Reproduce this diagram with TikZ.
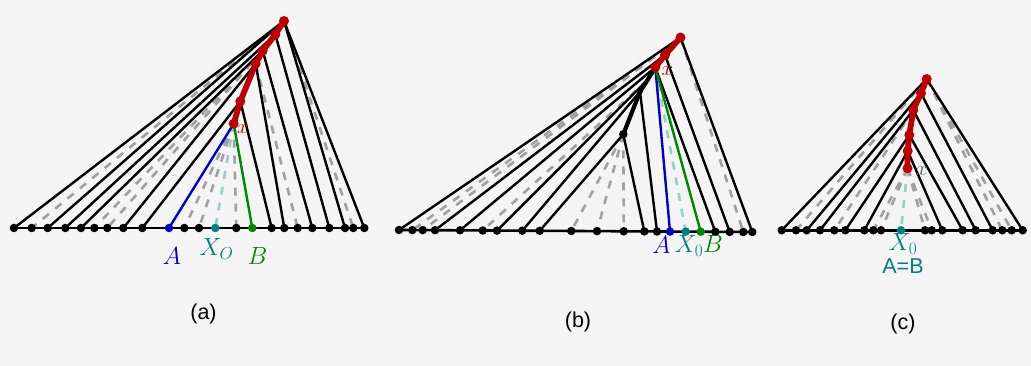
\documentclass[tikz,border=0pt]{standalone}
\usepackage{fontspec}
\newfontfamily\lsans{Liberation Sans}
\definecolor{bgc}{RGB}{244,244,244}
\definecolor{redc}{RGB}{190,0,0}
\definecolor{bluec}{RGB}{0,0,200}
\definecolor{greenc}{RGB}{0,135,0}
\definecolor{tealc}{RGB}{0,128,128}
\definecolor{lteal}{RGB}{150,205,205}
\definecolor{dgray}{RGB}{160,160,160}
\definecolor{xgray}{RGB}{90,90,90}
\tikzset{
  seg/.style={line width=2.4pt, draw=black},
  basel/.style={line width=2.6pt, draw=black},
  dsh/.style={line width=2.6pt, draw=dgray, dash pattern=on 8pt off 8pt},
  tdsh/.style={line width=2.6pt, draw=lteal, dash pattern=on 8pt off 8pt},
  chain/.style={line width=5.8pt, draw=redc, line cap=round, line join=round},
  bchain/.style={line width=4.2pt, draw=black, line cap=round, line join=round},
  bdot/.style={circle, fill=black, inner sep=0pt, minimum size=8.5pt},
  rdot/.style={circle, fill=redc, inner sep=0pt, minimum size=10pt},
  lab/.style={font=\fontsize{25}{29}\selectfont, inner sep=0pt},
  slab/.style={font=\lsans\fontsize{21.5}{25}\selectfont, inner sep=0pt},
  xlab/.style={font=\fontsize{22}{26}\selectfont, inner sep=0pt}
}
\begin{document}
\begin{tikzpicture}[x=1pt,y=-1pt]
\useasboundingbox (0,0) rectangle (1031,366);
\fill[bgc] (0,0) rectangle (1031,366);

% ================= panel (a) =================
\foreach \n/\x in {1/14,2/31.7,3/47.7,4/65.3,5/81,6/94.3,7/107.3,8/123.3,9/142.3,A/169,10/184.3,11/199,X/215.3,12/236.3,B/252.3,13/271.7,14/284.3,15/297.7,16/312.3,17/329.3,18/345,19/353.3,20/364.3}
  \coordinate (a\n) at (\x,228);
\coordinate (aP1) at (284,21);
\coordinate (aP2) at (275.3,34.5);
\coordinate (aP3) at (262.7,50.7);
\coordinate (aP4) at (255.7,63.7);
\coordinate (aP5) at (240.3,101.3);
\coordinate (ax) at (233.7,123.7);

\foreach \p/\q in {aP1/a2,aP1/a19,aP3/a6,aP3/a7,aP4/a15,ax/a10,ax/a11,ax/a12}
  \draw[dsh] (\p) -- (\q);
\draw[tdsh] (ax) -- (aX);
\foreach \p/\q in {aP1/a1,aP1/a20,aP1/a3,aP1/a18,aP2/a4,aP2/a17,aP3/a5,aP3/a16,aP4/a8,aP4/a14,aP5/a9,aP5/a13}
  \draw[seg] (\p) -- (\q);
\draw[seg, draw=bluec] (ax) -- (aA);
\draw[seg, draw=greenc] (ax) -- (aB);
\draw[basel] (a1) -- (a20);
\draw[chain] (aP1) -- (aP2) -- (aP3) -- (aP4) -- (aP5) -- (ax);
\foreach \n in {1,...,20} \node[bdot] (ad\n) at (a\n) {};
\node[bdot, fill=bluec] (adA) at (aA) {};
\node[bdot, fill=tealc] (adX) at (aX) {};
\node[bdot, fill=greenc] (adB) at (aB) {};
\foreach \n in {P1,P2,P3,P4,P5,x} \node[rdot] (ad\n) at (a\n) {};
\node[xlab, text=redc] (axl) at (243,129) {$x$};
\node[lab, text=bluec] (aAl) at (172,255.5) {$A$};
\node[lab, text=tealc] (aXl) at (216.5,249) {$X_O$};
\node[lab, text=greenc] (aBl) at (257.5,255.5) {$B$};
\node[slab] (acap) at (203.5,314) {(a)};

% ================= panel (b) =================
\foreach \n/\x/\y in {1/399/230.0,2/412.3/230.1,3/422.7/230.1,4/435/230.2,5/460/230.3,6/482.7/230.5,7/497/230.6,8/522.3/230.7,9/539.7/230.8,10/571.3/231.0,11/597/231.1,12/623.7/231.3,13/644.3/231.4,14/657/231.5,A/670/231.6,X/685.7/231.6,B/700.7/231.7,15/715.3/231.8,16/729.7/231.9,17/743.3/232.0,18/752.3/232.0}
  \coordinate (b\n) at (\x,\y);
\coordinate (bP1) at (680.5,37.5);
\coordinate (bP2) at (665,55);
\coordinate (bx) at (655.3,67.3);
\coordinate (bC0) at (647.5,80);
\coordinate (bC1) at (640,91.7);
\coordinate (bK) at (623.3,134.3);

\foreach \p/\q in {bP1/b2,bP1/b3,bP1/b17,bC0/b6,bK/b10,bK/b11,bK/b12}
  \draw[dsh] (\p) -- (\q);
\draw[tdsh] (bx) -- (bX);
\foreach \p/\q in {bP1/b1,bP1/b18,bP2/b4,bP2/b16,bx/b5,bx/b15,bC0/b7,bC1/b8,bC1/b14,bK/b9,bK/b13}
  \draw[seg] (\p) -- (\q);
\draw[seg, draw=bluec] (bx) -- (bA);
\draw[seg, draw=greenc] (bx) -- (bB);
\draw[basel] (b1) -- (b18);
\draw[bchain] (bx) -- (bC0) -- (bC1) -- (bK);
\draw[chain] (bP1) -- (bP2) -- (bx);
\foreach \n in {1,...,18} \node[bdot] (bd\n) at (b\n) {};
\node[bdot, fill=bluec] (bdA) at (bA) {};
\node[bdot, fill=tealc] (bdX) at (bX) {};
\node[bdot, fill=greenc] (bdB) at (bB) {};
\node[bdot, minimum size=5.5pt] (bdC1) at (bC1) {};
\node[bdot] (bdK) at (bK) {};
\foreach \n in {P1,P2,x} \node[rdot] (bd\n) at (b\n) {};
\node[xlab, text=redc] (bxl) at (667.5,71) {$x$};
\node[lab, text=bluec] (bAl) at (661.5,245) {$A$};
\node[lab, text=tealc] (bXl) at (689,246) {$X_0$};
\node[lab, text=greenc] (bBl) at (713,243.5) {$B$};
\node[slab] (bcap) at (578,322) {(b)};

% ================= panel (c) =================
\foreach \n/\x in {1/781.7,2/796,3/806.7,4/820,5/834.3,6/845.3,7/864.3,8/873.3,9/881,X/901,10/925,11/931.7,12/942.3,13/962.7,14/975.7,15/992.7,16/1002.3,17/1011.7,18/1022.7}
  \coordinate (c\n) at (\x,230.3);
\coordinate (cP1) at (926.7,79);
\coordinate (cP2) at (921,93.3);
\coordinate (cP3) at (913.3,110);
\coordinate (cP4) at (909.3,135);
\coordinate (cP5) at (907.7,151);
\coordinate (cx) at (907.5,168.3);

\foreach \p/\q in {cP1/c2,cP1/c16,cP1/c17,cP3/c5,cx/c8,cx/c9,cx/c10,cx/c11}
  \draw[dsh] (\p) -- (\q);
\draw[tdsh] (cx) -- (cX);
\foreach \p/\q in {cP1/c1,cP1/c18,cP2/c3,cP2/c15,cP3/c4,cP3/c14,cP4/c6,cP4/c13,cP5/c7,cP5/c12}
  \draw[seg] (\p) -- (\q);
\draw[basel] (c1) -- (c18);
\draw[chain] (cP1) -- (cP2) -- (cP3) -- (cP4) -- (cP5) -- (cx);
\foreach \n in {1,...,18} \node[bdot] (cd\n) at (c\n) {};
\node[bdot, fill=tealc] (cdX) at (cX) {};
\foreach \n in {P1,P2,P3,P4,P5,x} \node[rdot] (cd\n) at (c\n) {};
\node[xlab, text=xgray] (cxl) at (922,171) {$x$};
\node[lab, text=tealc] (cXl) at (903,244) {$X_0$};
\node[slab, text=tealc] (cABl) at (903,266.5) {A=B};
\node[slab] (ccap) at (903,324) {(c)};
\end{tikzpicture}
\end{document}
